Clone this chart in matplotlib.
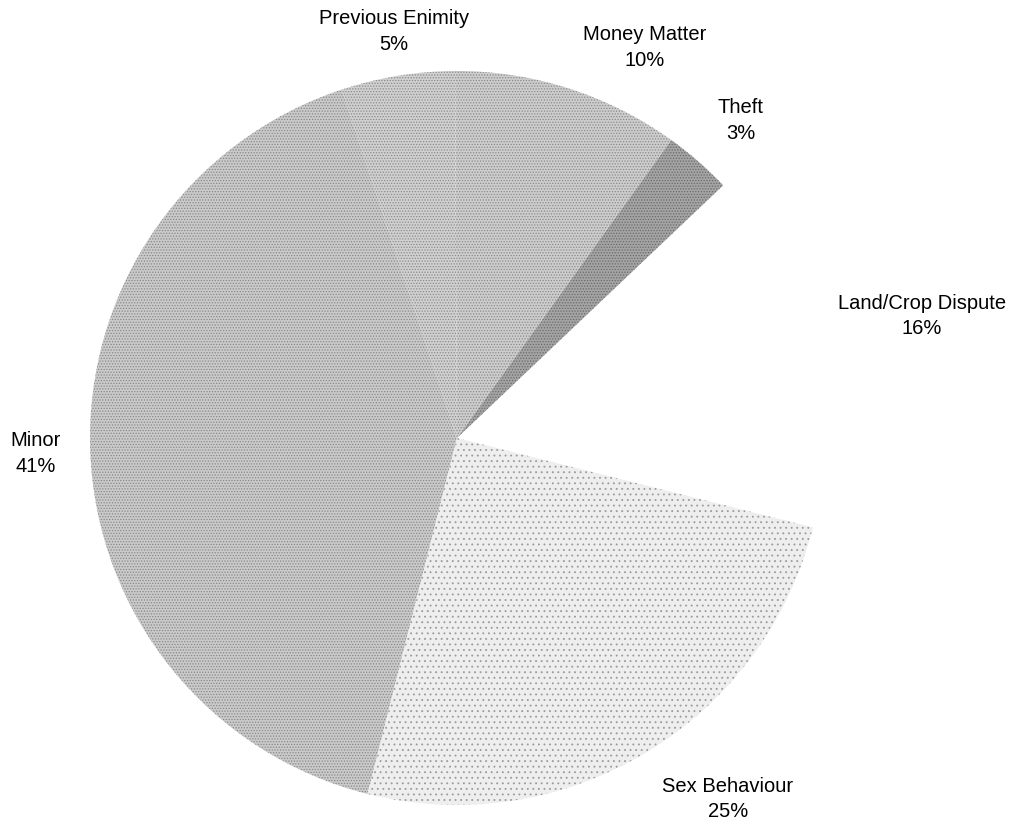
import numpy as np
import matplotlib.pyplot as plt

plt.rcParams['font.family'] = ['Liberation Sans', 'DejaVu Sans']
plt.rcParams['hatch.linewidth'] = 0.6

causes = ["Land/Crop Dispute", "Theft", "Money Matter", "Previous Enimity", "Minor", "Sex Behaviour"]
shares = [16, 3, 10, 5, 41, 25]

# fill tones and stipple (the original is a dithered grey print)
greys = ["#ffffff", "#a4a4a4", "#cdcdcd", "#d0d0d0", "#cacaca", "#eeeeee"]
dots = ["", "......", "......", "......", "......", "..."]
dot_col = ["#ffffff", "#6a6a6a", "#8a8a8a", "#8a8a8a", "#888888", "#9a9a9a"]
# label placement: radius multiple and angular nudge (deg) from slice middle
label_dist = [1.31, 1.16, 1.18, 1.12, 1.15, 1.23]
label_shift = [0, -0.7, -8, -0.5, 0, 6]

W, H = 1022, 825
cx, cy, R = 457, 438, 367

fig = plt.figure(figsize=(W / 100, H / 100), dpi=100)
ax = fig.add_axes([0, 0, 1, 1])

wedges, _ = ax.pie(shares, colors=greys, startangle=-14.1, counterclock=True,
                   wedgeprops=dict(linewidth=0))
for w, h, c in zip(wedges, dots, dot_col):
    w.set_hatch(h)
    w.set_edgecolor(c)

for w, name, val, d, s in zip(wedges, causes, shares, label_dist, label_shift):
    mid = np.deg2rad((w.theta1 + w.theta2) / 2 + s)
    ax.text(d * np.cos(mid), d * np.sin(mid), f"{name}\n{val}%",
            ha='center', va='center', fontsize=14.5, linespacing=1.45)

ax.set_xlim(-cx / R, (W - cx) / R)
ax.set_ylim(-(H - cy) / R, cy / R)
ax.set_aspect('auto')
ax.axis('off')

fig.savefig('out.png', dpi=100, facecolor='white')
